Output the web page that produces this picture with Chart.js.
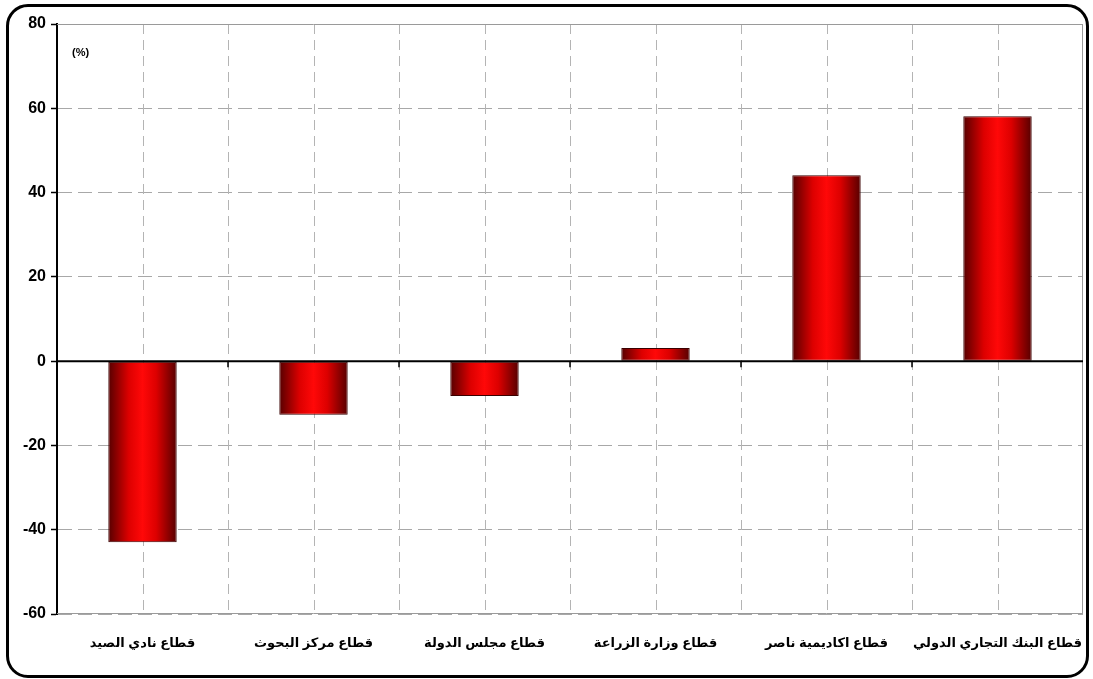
<!DOCTYPE html>
<html>
<head>
<meta charset="utf-8">
<script src="https://cdn.jsdelivr.net/npm/chart.js@4/dist/chart.umd.min.js"></script>
<style>
  html, body { margin:0; padding:0; background:#fff; }
  #wrap { position:relative; width:1093px; height:679px; }
  #frame { position:absolute; left:6px; top:4px; width:1077px; height:668px; border:3px solid #000; border-radius:22px; }
  canvas { position:absolute; left:0; top:0; }
</style>
</head>
<body>
<div id="wrap">
  <div id="frame"></div>
  <canvas id="c" width="1093" height="679"></canvas>
</div>
<script>
const categories = ['قطاع نادي الصيد', 'قطاع مركز البحوث', 'قطاع مجلس الدولة', 'قطاع وزارة الزراعة', 'قطاع اكاديمية ناصر', 'قطاع البنك التجاري الدولي'];
const values = [-43, -12.7, -8.3, 3.1, 44.1, 58.1];
const yTicks = [-60, -40, -20, 0, 20, 40, 60, 80];
const unitLabel = '(%)';

const FONT = "'Liberation Sans', Arial, 'DejaVu Sans', sans-serif";

const decor = {
  id: 'decor',
  beforeDatasetsDraw(chart) {
    const meta = chart.getDatasetMeta(0);
    const ctx = chart.ctx;
    const a = chart.chartArea;
    const x = chart.scales.x;
    // vertical dashed grid: category centres and boundaries
    ctx.save();
    ctx.strokeStyle = '#b4b4b4';
    ctx.lineWidth = 1;
    ctx.setLineDash([10, 6]);
    ctx.beginPath();
    const n = categories.length;
    for (let i = 0; i < n; i++) {
      const c = Math.round(x.getPixelForValue(i)) + 0.5;
      ctx.moveTo(c, a.top); ctx.lineTo(c, a.bottom);
      if (i > 0) {
        const b = Math.round((x.getPixelForValue(i - 1) + x.getPixelForValue(i)) / 2) + 0.5;
        ctx.moveTo(b, a.top); ctx.lineTo(b, a.bottom);
      }
    }
    ctx.stroke();
    ctx.setLineDash([]);
    // plot border (solid gray)
    ctx.strokeStyle = '#9a9a9a';
    ctx.beginPath();
    ctx.moveTo(a.left, a.top + 0.5); ctx.lineTo(a.right, a.top + 0.5);
    ctx.moveTo(a.left, a.bottom - 0.5); ctx.lineTo(a.right, a.bottom - 0.5);
    ctx.moveTo(a.right - 0.5, a.top); ctx.lineTo(a.right - 0.5, a.bottom);
    ctx.stroke();
    ctx.restore();
    meta.data.forEach(bar => {
      const l = bar.x - bar.width / 2, r = bar.x + bar.width / 2;
      const g = ctx.createLinearGradient(l, 0, r, 0);
      g.addColorStop(0, '#560000');
      g.addColorStop(0.3, '#dd0000');
      g.addColorStop(0.5, '#ff0808');
      g.addColorStop(0.7, '#dd0000');
      g.addColorStop(1, '#560000');
      bar.options.backgroundColor = g;
    });
  },
  afterDatasetsDraw(chart) {
    const ctx = chart.ctx;
    const a = chart.chartArea;
    const y = chart.scales.y;
    const x = chart.scales.x;
    const y0 = y.getPixelForValue(0);
    ctx.save();
    ctx.strokeStyle = '#000';
    ctx.lineWidth = 2;
    ctx.beginPath();
    ctx.moveTo(a.left, y0); ctx.lineTo(a.right, y0);
    ctx.stroke();
    // category boundary ticks on zero line
    ctx.lineWidth = 1.5;
    ctx.beginPath();
    for (let i = 1; i < categories.length; i++) {
      const px = (x.getPixelForValue(i - 1) + x.getPixelForValue(i)) / 2;
      ctx.moveTo(px, y0); ctx.lineTo(px, y0 + 6);
    }
    ctx.stroke();
    // unit label
    ctx.fillStyle = '#000';
    ctx.font = "bold 11px " + FONT;
    ctx.textAlign = 'left';
    ctx.textBaseline = 'middle';
    ctx.fillText(unitLabel, a.left + 15, a.top + 29);
    ctx.restore();
  }
};

new Chart(document.getElementById('c'), {
  type: 'bar',
  data: {
    labels: categories,
    datasets: [{
      data: values,
      backgroundColor: (c) => '#e00000',
      borderColor: '#3a0000',
      borderWidth: 1,
      borderSkipped: false,
      barPercentage: 0.8,
      categoryPercentage: 0.5
    }]
  },
  options: {
    responsive: false,
    animation: false,
    devicePixelRatio: 1,
    layout: { padding: { left: 0, top: 24, right: 10, bottom: 0 } },
    plugins: { legend: { display: false }, tooltip: { enabled: false } },
    scales: {
      x: {
        type: 'category',
        position: 'bottom',
        offset: true,
        grid: { display: false },
        border: { display: false },
        ticks: {
          color: '#000',
          font: { family: FONT, size: 13, weight: 'bold' },
          padding: 14,
          maxRotation: 0,
          autoSkip: false
        },
        afterFit(s) { s.height = 65; s.paddingLeft = 0; s.paddingRight = 0; }
      },
      y: {
        min: yTicks[0],
        max: yTicks[yTicks.length - 1],
        afterBuildTicks(s) { s.ticks = yTicks.map(v => ({ value: v })); },
        ticks: {
          color: '#000',
          font: { family: FONT, size: 16, weight: 'bold' },
          padding: 5
        },
        grid: {
          color: '#a8a8a8',
          lineWidth: 1,
          tickColor: '#000',
          tickLength: 6,
          tickWidth: 1.5
        },
        border: { display: true, color: '#000', width: 2, dash: [14, 6] },
        afterFit(s) { s.width = 57; s.paddingTop = 0; s.paddingBottom = 0; }
      }
    }
  },
  plugins: [decor]
});
</script>
</body>
</html>
